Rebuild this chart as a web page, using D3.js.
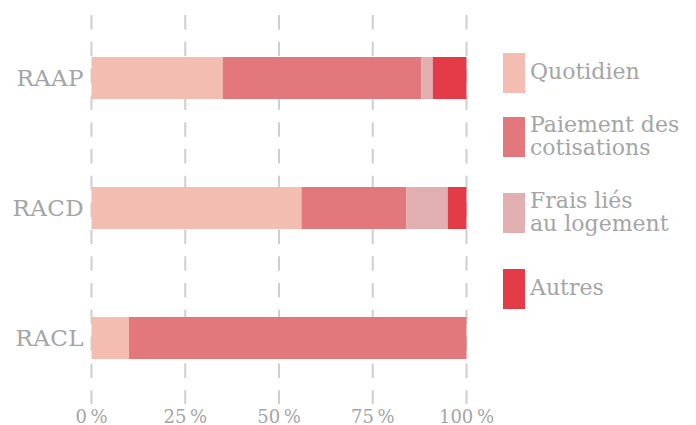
<!DOCTYPE html>
<html><head><meta charset="utf-8">
<script src="https://cdn.jsdelivr.net/npm/d3@7"></script>
<style>
html,body{margin:0;padding:0;background:#fff;}
svg{display:block;font-family:"DejaVu Serif",serif;}
</style></head>
<body>
<svg id="chart" width="696" height="425"></svg>
<script>
const categories = ["RAAP", "RACD", "RACL"];
const seriesNames = ["Quotidien", "Paiement des cotisations", "Frais liés au logement", "Autres"];
const legendLines = [["Quotidien"], ["Paiement des", "cotisations"], ["Frais liés", "au logement"], ["Autres"]];
const quotidien = [35, 56, 10];
const paiement = [53, 28, 90];
const frais = [3, 11, 0];
const autres = [9, 5, 0];
const tickValues = [0, 25, 50, 75, 100];
const tickLabels = ["0\u2009%", "25\u2009%", "50\u2009%", "75\u2009%", "100\u2009%"];
const colors = ["#f4bdb2", "#e2777c", "#e2afb1", "#e33c48"];

const svg = d3.select("#chart");
const textColor = "#a5a5a5";

const x = d3.scaleLinear().domain([0, 100]).range([91.5, 466.5]);
const y = d3.scaleBand().domain(categories).range([13, 403]).paddingInner(0.677).paddingOuter(0.3385);

// gridlines
svg.append("g").selectAll("line").data(tickValues).join("line")
  .attr("x1", d => x(d)).attr("x2", d => x(d))
  .attr("y1", 15).attr("y2", 404)
  .attr("stroke", "#cfcfcf").attr("stroke-width", 2)
  .attr("stroke-dasharray", "14.5 12.3");

// stacked data
const rows = categories.map((c, i) => ({cat: c, "Quotidien": quotidien[i], "Paiement des cotisations": paiement[i], "Frais liés au logement": frais[i], "Autres": autres[i]}));
const stacked = d3.stack().keys(seriesNames)(rows);

svg.append("g").selectAll("g").data(stacked).join("g")
  .attr("fill", (d, i) => colors[i])
  .selectAll("rect").data(d => d).join("rect")
  .attr("x", d => x(d[0]))
  .attr("width", d => x(d[1]) - x(d[0]))
  .attr("y", d => y(d.data.cat))
  .attr("height", y.bandwidth());

// category labels
svg.append("g").selectAll("text").data(categories).join("text")
  .attr("x", 84).attr("y", d => y(d) + y.bandwidth() / 2 + 8)
  .attr("text-anchor", "end").attr("font-size", 23).attr("letter-spacing", 0.4).attr("fill", textColor)
  .text(d => d);

// x axis labels
svg.append("g").selectAll("text").data(tickValues).join("text")
  .attr("x", d => x(d)).attr("y", 423)
  .attr("text-anchor", "middle").attr("font-size", 18).attr("fill", textColor)
  .text((d, i) => tickLabels[i]);

// legend
let ly = 53;
const lg = svg.append("g");
legendLines.forEach((lines, i) => {
  lg.append("rect").attr("x", 503).attr("y", ly).attr("width", 22).attr("height", 40).attr("fill", colors[i]);
  const cy = ly + 20;
  const first = cy - (lines.length - 1) * 23 / 2 + 6;
  lines.forEach((t, j) => {
    lg.append("text").attr("x", 530).attr("y", first + j * 23)
      .attr("font-size", 22).attr("fill", textColor).text(t);
  });
  ly += 52 + 12 * lines.length;
});
</script>
</body></html>
